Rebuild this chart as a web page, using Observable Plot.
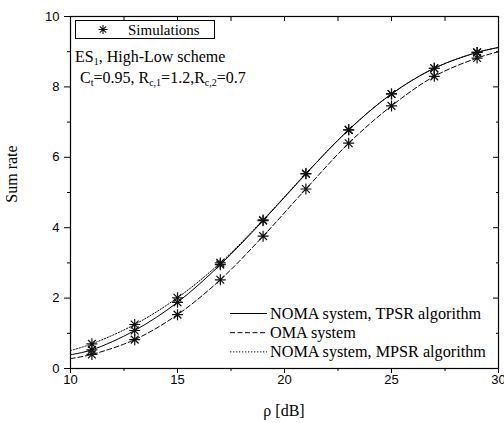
<!DOCTYPE html>
<html>
<head>
<meta charset="utf-8">
<script src="https://cdn.jsdelivr.net/npm/d3@7"></script>
<script src="https://cdn.jsdelivr.net/npm/@observablehq/plot@0.6"></script>
<style>
  html, body { margin: 0; padding: 0; background: #fff; }
</style>
</head>
<body>
<div id="chart"></div>
<script>
// Curve sample points
const curveX = [10, 11, 13, 15, 17, 19, 21, 23, 25, 27, 29, 30];
const tpsrCurve = [0.39, 0.53, 1.08, 1.88, 2.95, 4.20, 5.53, 6.78, 7.80, 8.53, 8.98, 9.12];
const omaCurve  = [0.28, 0.40, 0.82, 1.53, 2.52, 3.76, 5.10, 6.40, 7.46, 8.30, 8.82, 9.00];
const mpsrCurve = [0.51, 0.70, 1.25, 2.01, 3.00, 4.22, 5.54, 6.78, 7.80, 8.53, 8.98, 9.12];

// Simulation markers
const simX = [11, 13, 15, 17, 19, 21, 23, 25, 27, 29];
const simTPSR = [0.53, 1.08, 1.88, 2.95, 4.20, 5.53, 6.78, 7.80, 8.53, 8.98];
const simOMA  = [0.40, 0.82, 1.53, 2.52, 3.76, 5.10, 6.40, 7.46, 8.30, 8.82];
const simMPSR = [0.70, 1.25, 2.01, 3.00, 4.22, 5.54, 6.78, 7.80, 8.53, 8.98];

// Axis ticks
const xMajor = [10, 15, 20, 25, 30];
const xMinor = [12.5, 17.5, 22.5, 27.5];
const yMajor = [0, 2, 4, 6, 8, 10];
const yMinor = [1, 3, 5, 7, 9];

const legendLabels = ["NOMA system, TPSR algorithm", "OMA system", "NOMA system, MPSR algorithm"];
const dashes = [null, "5,2.5", "1.3,1.7"];

const toRows = (xsArr, ysArr) => xsArr.map((x, i) => ({x, y: ysArr[i]}));
const simRows = [simTPSR, simOMA, simMPSR].flatMap(arr => toRows(simX, arr));

// 8-armed asterisk symbol
const star = {
  draw(ctx, size) {
    const r = Math.sqrt(size / Math.PI);
    const d = r * Math.SQRT1_2;
    ctx.moveTo(-r, 0); ctx.lineTo(r, 0);
    ctx.moveTo(0, -r); ctx.lineTo(0, r);
    ctx.moveTo(-d, -d); ctx.lineTo(d, d);
    ctx.moveTo(-d, d); ctx.lineTo(d, -d);
  }
};

const W = 504, H = 423;
const mL = 70, mR = 6, mT = 16, mB = 55;

const tickFont = {fontSize: 13, fontFamily: "Liberation Sans, Arial, sans-serif"};

const plot = Plot.plot({
  width: W,
  height: H,
  marginLeft: mL,
  marginRight: mR,
  marginTop: mT,
  marginBottom: mB,
  style: {fontFamily: "Liberation Sans, Arial, sans-serif", fontSize: "13px", background: "white", color: "black"},
  x: {domain: [10, 30]},
  y: {domain: [0, 10]},
  marks: [
    Plot.frame({stroke: "black", strokeWidth: 1.2}),
    Plot.axisX({ticks: xMajor, tickSize: 5, tickPadding: 1, label: null, ...tickFont}),
    Plot.axisX({ticks: xMinor, tickSize: 3, tickFormat: () => "", label: null}),
    Plot.axisX({anchor: "top", ticks: xMajor.concat(xMinor), tickSize: 4, dy: 4, tickFormat: () => "", label: null}),
    Plot.axisY({ticks: yMajor, tickSize: 6, tickPadding: 5, label: null, ...tickFont}),
    Plot.axisY({ticks: yMinor, tickSize: 3, tickFormat: () => "", label: null}),
    Plot.axisY({anchor: "right", ticks: yMajor, tickSize: 6, dx: -6, tickFormat: () => "", label: null}),
    Plot.axisY({anchor: "right", ticks: yMinor, tickSize: 3, dx: -3, tickFormat: () => "", label: null}),
    Plot.line(toRows(curveX, mpsrCurve), {x: "x", y: "y", curve: "catmull-rom", stroke: "black", strokeWidth: 1, strokeDasharray: dashes[2]}),
    Plot.line(toRows(curveX, omaCurve), {x: "x", y: "y", curve: "catmull-rom", stroke: "black", strokeWidth: 1, strokeDasharray: dashes[1]}),
    Plot.line(toRows(curveX, tpsrCurve), {x: "x", y: "y", curve: "catmull-rom", stroke: "black", strokeWidth: 1}),
    Plot.dot(simRows, {x: "x", y: "y", symbol: star, r: 5.5, stroke: "#111", strokeWidth: 1.2, fill: "none"})
  ]
});

document.getElementById("chart").appendChild(plot);

// Annotations, legends and axis titles
const svg = d3.select(plot);
const serif = "Liberation Serif, Times New Roman, serif";
const g = svg.append("g").attr("font-family", serif).attr("fill", "black").attr("text-anchor", "start");

// Simulations legend box
g.append("rect").attr("x", 75.5).attr("y", 20.5).attr("width", 139).attr("height", 18)
  .attr("fill", "white").attr("stroke", "black").attr("stroke-width", 1);
const sr = 4.5, sd = sr * Math.SQRT1_2;
g.append("path")
  .attr("transform", "translate(103,29.5)")
  .attr("d", `M${-sr},0L${sr},0M0,${-sr}L0,${sr}M${-sd},${-sd}L${sd},${sd}M${-sd},${sd}L${sd},${-sd}`)
  .attr("stroke", "#111").attr("stroke-width", 1.1).attr("fill", "none");
g.append("text").attr("x", 128).attr("y", 35).attr("font-size", 15).text("Simulations");

// Scheme annotation
const t1 = g.append("text").attr("x", 75).attr("y", 62).attr("font-size", 16);
t1.append("tspan").text("ES");
t1.append("tspan").attr("font-size", 10).attr("dy", 3).text("1");
t1.append("tspan").attr("dy", -3).text(", High-Low scheme");

const t2 = g.append("text").attr("x", 80).attr("y", 83).attr("font-size", 16);
t2.append("tspan").text("C");
t2.append("tspan").attr("font-size", 10).attr("dy", 3).text("t");
t2.append("tspan").attr("dy", -3).text("=0.95, R");
t2.append("tspan").attr("font-size", 10).attr("dy", 3).text("c,1");
t2.append("tspan").attr("dy", -3).text("=1.2,R");
t2.append("tspan").attr("font-size", 10).attr("dy", 3).text("c,2");
t2.append("tspan").attr("dy", -3).text("=0.7");

// Line legend
legendLabels.forEach((lab, i) => {
  const yy = 313.5 + i * 19.2;
  const ln = g.append("line").attr("x1", 230).attr("x2", 267).attr("y1", yy).attr("y2", yy)
    .attr("stroke", "black").attr("stroke-width", 1);
  if (dashes[i]) ln.attr("stroke-dasharray", dashes[i]);
  g.append("text").attr("x", 270).attr("y", yy + 5.5).attr("font-size", 16.2).text(lab);
});

// Axis titles
g.append("text").attr("x", 284).attr("y", 416).attr("text-anchor", "middle").attr("font-size", 16).text("ρ [dB]");
g.append("text").attr("transform", "translate(17,174) rotate(-90)").attr("text-anchor", "middle")
  .attr("font-size", 16).text("Sum rate");
</script>
</body>
</html>
